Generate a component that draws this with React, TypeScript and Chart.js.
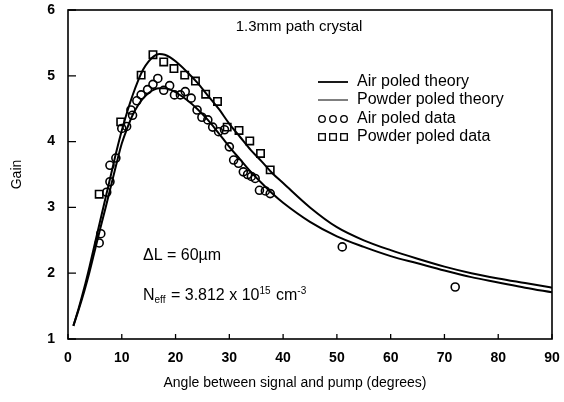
import React, { useEffect, useRef } from "react";
import { Chart, registerables } from "chart.js";

Chart.register(...registerables);

// ---- data ----
const theoryAngles = [1, 2, 3, 4, 5, 6, 7, 8, 9, 10, 11, 12, 13, 14, 15, 16, 17, 18, 19, 20, 22, 24, 26, 28, 30, 32, 34, 36, 38, 40, 45, 50, 55, 60, 65, 70, 75, 80, 85, 90];
const airTheory = [1.2, 1.45, 1.72, 2.02, 2.35, 2.68, 3.0, 3.33, 3.66, 3.97, 4.2, 4.4, 4.55, 4.66, 4.74, 4.79, 4.81, 4.81, 4.79, 4.75, 4.64, 4.5, 4.33, 4.13, 3.92, 3.73, 3.54, 3.37, 3.21, 3.07, 2.78, 2.56, 2.4, 2.26, 2.15, 2.04, 1.94, 1.86, 1.78, 1.71];
const powderTheory = [1.2, 1.47, 1.77, 2.1, 2.45, 2.8, 3.15, 3.5, 3.85, 4.17, 4.45, 4.7, 4.92, 5.1, 5.22, 5.3, 5.33, 5.32, 5.28, 5.22, 5.07, 4.9, 4.7, 4.5, 4.27, 4.07, 3.87, 3.7, 3.52, 3.37, 3.0, 2.7, 2.5, 2.35, 2.22, 2.1, 2.0, 1.92, 1.85, 1.78];

const airDataAngles = [5.8, 6.1, 7.2, 7.8, 7.8, 8.9, 10.0, 10.9, 11.7, 12.0, 12.8, 13.6, 14.8, 15.8, 16.7, 17.8, 18.9, 19.8, 20.9, 21.8, 22.9, 24.0, 24.9, 26.0, 26.9, 28.0, 29.1, 30.0, 30.8, 31.7, 32.6, 33.4, 34.1, 34.8, 35.6, 36.7, 37.6, 51.0, 72.0];
const airDataGain = [2.46, 2.6, 3.23, 3.39, 3.64, 3.75, 4.2, 4.23, 4.48, 4.4, 4.62, 4.71, 4.79, 4.87, 4.96, 4.78, 4.85, 4.71, 4.71, 4.76, 4.66, 4.48, 4.37, 4.33, 4.22, 4.15, 4.18, 3.92, 3.72, 3.67, 3.54, 3.5, 3.47, 3.44, 3.26, 3.25, 3.21, 2.4, 1.79];

const powderDataAngles = [5.8, 9.8, 13.6, 15.8, 17.8, 19.7, 21.7, 23.7, 25.6, 27.8, 29.6, 31.8, 33.8, 35.8, 37.6];
const powderDataGain = [3.2, 4.3, 5.01, 5.32, 5.21, 5.11, 5.01, 4.92, 4.72, 4.61, 4.22, 4.17, 4.01, 3.82, 3.57];

const xTickValues = [0, 10, 20, 30, 40, 50, 60, 70, 80, 90];
const yTickValues = [1, 2, 3, 4, 5, 6];

const seriesLabels = ["Air poled theory", "Powder poled theory", "Air poled data", "Powder poled data"];
const titleText = "1.3mm path crystal";
const xTitle = "Angle between signal and pump (degrees)";
const yTitle = "Gain";

const FONT = "'Liberation Sans', Arial, Helvetica, sans-serif";

const framePlugin = {
  id: "frameAndNotes",
  afterDraw(chart: any) {
    const { ctx, chartArea } = chart;
    const xs = chart.scales.x;
    const ys = chart.scales.y;
    ctx.save();
    ctx.strokeStyle = "#000";
    ctx.lineWidth = 1.6;
    ctx.strokeRect(chartArea.left, chartArea.top, chartArea.right - chartArea.left, chartArea.bottom - chartArea.top);
    // inward ticks
    ctx.lineWidth = 1.3;
    ctx.beginPath();
    yTickValues.forEach((v) => {
      const y = ys.getPixelForValue(v);
      ctx.moveTo(chartArea.left, y);
      ctx.lineTo(chartArea.left + 8, y);
    });
    xTickValues.forEach((v) => {
      const x = xs.getPixelForValue(v);
      ctx.moveTo(x, chartArea.bottom);
      ctx.lineTo(x, chartArea.bottom - 5);
    });
    ctx.stroke();

    ctx.fillStyle = "#000";
    ctx.textBaseline = "middle";
    // x axis title
    ctx.textAlign = "center";
    ctx.font = `14px ${FONT}`;
    ctx.fillText(xTitle, 295, 383);

    // title inside plot
    ctx.textAlign = "center";
    ctx.font = `15px ${FONT}`;
    ctx.fillText(titleText, 299, 27);

    ctx.textAlign = "left";
    // legend
    const lx = 318;
    const tx = 357;
    const rows = [82, 100, 119, 137];
    ctx.font = `16px ${FONT}`;
    rows.forEach((y, i) => {
      ctx.fillText(seriesLabels[i], tx, y);
    });
    ctx.beginPath();
    ctx.lineWidth = 1.8;
    ctx.moveTo(lx, rows[0]);
    ctx.lineTo(lx + 30, rows[0]);
    ctx.stroke();
    ctx.beginPath();
    ctx.lineWidth = 1;
    ctx.moveTo(lx, rows[1]);
    ctx.lineTo(lx + 30, rows[1]);
    ctx.stroke();
    ctx.lineWidth = 1.3;
    for (let k = 0; k < 3; k++) {
      const cx = lx + 4 + k * 11;
      ctx.beginPath();
      ctx.arc(cx, rows[2], 3.3, 0, Math.PI * 2);
      ctx.stroke();
      ctx.strokeRect(cx - 3.3, rows[3] - 3.3, 6.6, 6.6);
    }

    // annotations
    const ax = 143;
    ctx.font = `16px ${FONT}`;
    ctx.fillText("\u0394L = 60\u00b5m", ax, 256);
    const ny = 296;
    let x = ax;
    ctx.fillText("N", x, ny);
    x += ctx.measureText("N").width;
    ctx.font = `10px ${FONT}`;
    ctx.fillText("eff", x, ny + 4);
    x += ctx.measureText("eff").width + 1;
    ctx.font = `16px ${FONT}`;
    const mid = " = 3.812 x 10";
    ctx.fillText(mid, x, ny);
    x += ctx.measureText(mid).width;
    ctx.font = `10px ${FONT}`;
    ctx.fillText("15", x, ny - 5);
    x += ctx.measureText("15").width + 1;
    ctx.font = `16px ${FONT}`;
    ctx.fillText(" cm", x, ny);
    x += ctx.measureText(" cm").width;
    ctx.font = `10px ${FONT}`;
    ctx.fillText("-3", x, ny - 5);
    ctx.restore();
  },
};

export default function App() {
  const ref = useRef<HTMLCanvasElement | null>(null);
  useEffect(() => {
    if (!ref.current) return;
    const pts = (xs: number[], ys: number[]) => xs.map((x, i) => ({ x, y: ys[i] }));
    const chart = new Chart(ref.current, {
      type: "scatter",
      data: {
        datasets: [
          {
            label: seriesLabels[0],
            data: pts(theoryAngles, airTheory),
            showLine: true,
            borderColor: "#000",
            borderWidth: 2,
            pointRadius: 0,
            cubicInterpolationMode: "monotone",
          },
          {
            label: seriesLabels[1],
            data: pts(theoryAngles, powderTheory),
            showLine: true,
            borderColor: "#000",
            borderWidth: 2,
            pointRadius: 0,
            cubicInterpolationMode: "monotone",
          },
          {
            label: seriesLabels[2],
            data: pts(airDataAngles, airDataGain),
            pointStyle: "circle",
            pointRadius: 4,
            borderColor: "#000",
            borderWidth: 1.6,
            backgroundColor: "rgba(255,255,255,0)",
          },
          {
            label: seriesLabels[3],
            data: pts(powderDataAngles, powderDataGain),
            pointStyle: "rect",
            pointRadius: 5.2,
            borderColor: "#000",
            borderWidth: 1.6,
            backgroundColor: "rgba(255,255,255,0)",
          },
        ],
      } as any,
      options: {
        animation: false,
        responsive: false,
        events: [],
        layout: { padding: { top: 10, right: 12, left: 0, bottom: 0 } },
        plugins: { legend: { display: false }, tooltip: { enabled: false } },
        scales: {
          x: {
            type: "linear",
            min: 0,
            max: 90,
            afterFit: (s: any) => {
              s.height = 63;
              s.paddingLeft = 0;
              s.paddingRight = 0;
            },
            afterBuildTicks: (s: any) => {
              s.ticks = xTickValues.map((v) => ({ value: v }));
            },
            grid: { display: false, drawTicks: false },
            border: { display: false },
            ticks: {
              padding: 11,
              color: "#000",
              font: { family: FONT, size: 14, weight: "bold" },
            },
            title: { display: false },
          },
          y: {
            type: "linear",
            min: 1,
            max: 6,
            afterFit: (s: any) => {
              s.width = 68;
              s.paddingTop = 0;
              s.paddingBottom = 0;
            },
            afterBuildTicks: (s: any) => {
              s.ticks = yTickValues.map((v) => ({ value: v }));
            },
            grid: { display: false, drawTicks: false },
            border: { display: false },
            ticks: {
              padding: 13,
              color: "#000",
              font: { family: FONT, size: 14, weight: "bold" },
            },
            title: {
              display: true,
              text: yTitle,
              color: "#000",
              font: { family: FONT, size: 14 },
              padding: { top: 9, bottom: 0 },
            },
          },
        },
      } as any,
      plugins: [framePlugin],
    });
    return () => chart.destroy();
  }, []);
  return (
    <div style={{ position: "fixed", left: 0, top: 0, width: 564, height: 402, background: "#fff" }}>
      <canvas ref={ref} width={564} height={402} style={{ display: "block" }} />
    </div>
  );
}
